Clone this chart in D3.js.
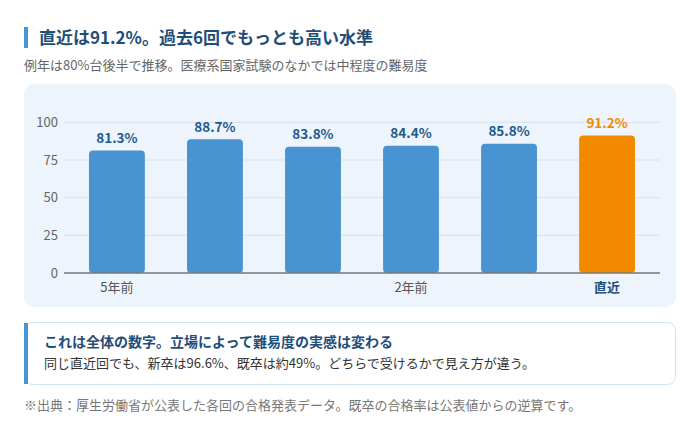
<!DOCTYPE html>
<html><head><meta charset="utf-8">
<script src="https://cdn.jsdelivr.net/npm/d3@7"></script>
<style>
html,body{margin:0;padding:0;background:#fff;}
body{width:700px;height:424px;overflow:hidden;font-family:"Noto Sans CJK JP","Noto Sans",sans-serif;}
</style></head>
<body><svg id="c" width="700" height="424"></svg>
<script>
const categories = ["5年前","4年前","3年前","2年前","前回","直近"];
const values = [81.3, 88.7, 83.8, 84.4, 85.8, 91.2];
const tickLabels = ["5年前","","","2年前","","直近"];
const yTicks = [0,25,50,75,100];
const title = "直近は91.2%。過去6回でもっとも高い水準";
const subtitle = "例年は80%台後半で推移。医療系国家試験のなかでは中程度の難易度";
const noteHead = "これは全体の数字。立場によって難易度の実感は変わる";
const noteBody = "同じ直近回でも、新卒は96.6%、既卒は約49%。どちらで受けるかで見え方が違う。";
const footnote = "※出典：厚生労働省が公表した各回の合格発表データ。既卒の合格率は公表値からの逆算です。";

const svg = d3.select("#c");
const font = '"Noto Sans CJK JP","Noto Sans",sans-serif';
svg.style("font-family", font);

// title
svg.append("rect").attr("x",24).attr("y",27).attr("width",4).attr("height",21).attr("fill","#4a94d2");
svg.append("text").attr("x",39).attr("y",43.5).attr("font-size",17).attr("font-weight",700)
  .attr("fill","#1f4e79").text(title);
svg.append("text").attr("x",24).attr("y",70).attr("font-size",13).attr("fill","#666").text(subtitle);

// panel
svg.append("rect").attr("x",24).attr("y",84).attr("width",652).attr("height",223).attr("rx",10)
  .attr("fill","#edf4fb");

const x = d3.scaleBand().domain(categories).range([64,660]).paddingInner(0.43).paddingOuter(0.255);
const y = d3.scaleLinear().domain([0,100]).range([273,122.3]);

const g = svg.append("g");
// gridlines
g.selectAll("line.grid").data(yTicks.filter(d=>d>0)).join("line")
  .attr("x1",64).attr("x2",660).attr("y1",d=>y(d)).attr("y2",d=>y(d))
  .attr("stroke","#d5e2ef").attr("stroke-width",1);
// y labels
const yAxis = d3.axisLeft(y).tickValues(yTicks).tickSize(0).tickPadding(6);
const ya = g.append("g").attr("transform","translate(64,0)").call(yAxis);
ya.select(".domain").remove();
ya.selectAll("text").attr("font-size",13).attr("fill","#666").attr("font-family",font).attr("x",-6);

const last = categories.length-1;
// bars
g.selectAll("rect.bar").data(values).join("rect")
  .attr("x",(d,i)=>x(categories[i])).attr("width",x.bandwidth())
  .attr("y",d=>y(d)).attr("height",d=>y(0)-y(d)).attr("rx",4)
  .attr("fill",(d,i)=>i===last?"#f28a00":"#4894d2");
// value labels
g.selectAll("text.val").data(values).join("text")
  .attr("x",(d,i)=>x(categories[i])+x.bandwidth()/2).attr("y",d=>y(d)-7.5)
  .attr("text-anchor","middle").attr("font-size",13.5).attr("font-weight",700)
  .attr("fill",(d,i)=>i===last?"#f28a00":"#1f5a8f").text(d=>d.toFixed(1)+"%");
// baseline
g.append("line").attr("x1",64).attr("x2",660).attr("y1",y(0)).attr("y2",y(0))
  .attr("stroke","#777").attr("stroke-width",1.3);
// x labels
const xAxis = d3.axisBottom(x).tickSize(0).tickPadding(10).tickFormat((d,i)=>tickLabels[i]);
const xa = g.append("g").attr("transform",`translate(0,${y(0)})`).call(xAxis);
xa.select(".domain").remove();
xa.selectAll("text").attr("font-size",13).attr("font-family",font)
  .attr("fill",(d,i)=>i===last?"#1f4e79":"#555").attr("font-weight",(d,i)=>i===last?700:400);

// note box
svg.append("rect").attr("x",24.5).attr("y",322.5).attr("width",651).attr("height",62).attr("rx",8)
  .attr("fill","#fff").attr("stroke","#d3e3f2").attr("stroke-width",1);
svg.append("rect").attr("x",24).attr("y",323).attr("width",4).attr("height",61).attr("fill","#4a94d2");
svg.append("text").attr("x",44).attr("y",347).attr("font-size",14).attr("font-weight",700)
  .attr("fill","#1f4e79").text(noteHead);
svg.append("text").attr("x",44).attr("y",368).attr("font-size",13).attr("fill","#333").text(noteBody);

svg.append("text").attr("x",24).attr("y",410).attr("font-size",13).attr("fill","#777").text(footnote);
</script></body></html>
